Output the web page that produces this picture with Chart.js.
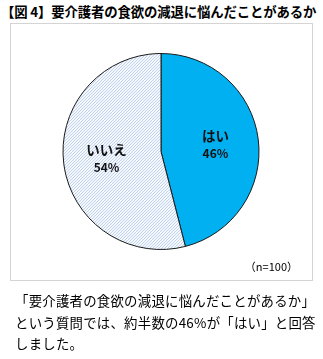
<!DOCTYPE html>
<html>
<head>
<meta charset="utf-8">
<script src="https://cdn.jsdelivr.net/npm/chart.js@4/dist/chart.umd.min.js"></script>
<style>
  body { margin: 0; background: #fff; width: 323px; height: 359px; position: relative; overflow: hidden;
         font-family: "Noto Sans CJK JP", sans-serif; color: #000; }
  #title { position: absolute; left: 1px; top: 1px; font-size: 13.4px; font-weight: bold; white-space: nowrap; letter-spacing: -0.15px; }
  #box { position: absolute; left: 10px; top: 23px; width: 301px; height: 256px; border: 1px solid #d4d4d4; }
  #chart { position: absolute; left: 0; top: 0; }
  #note { position: absolute; right: 14px; bottom: 6px; font-size: 11px; }
  #desc { position: absolute; left: 15px; top: 290px; font-size: 13.4px; line-height: 21.5px; letter-spacing: 0.25px; white-space: nowrap; }
</style>
</head>
<body>
<div id="title">【図 4】要介護者の食欲の減退に悩んだことがあるか</div>
<div id="box">
  <canvas id="chart" width="300" height="256"></canvas>
  <div id="note">（n=100）</div>
</div>
<div id="desc">「要介護者の食欲の減退に悩んだことがあるか」<br>という質問では、約半数の46%が「はい」と回答<br>しました。</div>
<script>
const categories = ['はい', 'いいえ'];
const values = [46, 54];
const valueLabels = ['46%', '54%'];

// diagonal hatch for the いいえ slice
function hatch() {
    const c = document.createElement('canvas');
    c.width = 3; c.height = 3;
    const g = c.getContext('2d');
    g.fillStyle = '#f4f7fc';
    g.fillRect(0, 0, 3, 3);
    g.strokeStyle = '#bccfeb';
    g.lineWidth = 0.9;
    g.beginPath();
    g.moveTo(0, 3); g.lineTo(3, 0);
    g.moveTo(-1, 1); g.lineTo(1, -1);
    g.moveTo(2, 4); g.lineTo(4, 2);
    g.stroke();
    return g.createPattern(c, 'repeat');
}

const sliceLabels = {
    id: 'sliceLabels',
    afterDatasetsDraw(chart) {
        const ctx = chart.ctx;
        const meta = chart.getDatasetMeta(0);
        ctx.save();
        ctx.fillStyle = '#111';
        ctx.textAlign = 'center';
        ctx.textBaseline = 'middle';
        meta.data.forEach((arc, i) => {
            const p = arc.getProps(['x', 'y', 'startAngle', 'endAngle', 'outerRadius']);
            const mid = (p.startAngle + p.endAngle) / 2;
            const r = p.outerRadius * 0.56;
            const x = p.x + Math.cos(mid) * r;
            const y = p.y + Math.sin(mid) * r;
            ctx.font = 'bold 13.5px "Noto Sans CJK JP"';
            ctx.fillText(categories[i], x, y - 9);
            ctx.font = 'bold 12px "Noto Sans CJK JP"';
            ctx.fillText(valueLabels[i], x, y + 9);
        });
        ctx.restore();
    }
};

new Chart(document.getElementById('chart'), {
    type: 'pie',
    data: {
        labels: categories,
        datasets: [{
            data: values,
            backgroundColor: ['#00b0f0', hatch()],
            borderColor: '#1a1a1a',
            borderWidth: 1
        }]
    },
    options: {
        responsive: false,
        animation: false,
        layout: { padding: { top: 29, bottom: 30, left: 0, right: 0 } },
        plugins: { legend: { display: false }, tooltip: { enabled: false } }
    },
    plugins: [sliceLabels]
});
</script>
</body>
</html>
